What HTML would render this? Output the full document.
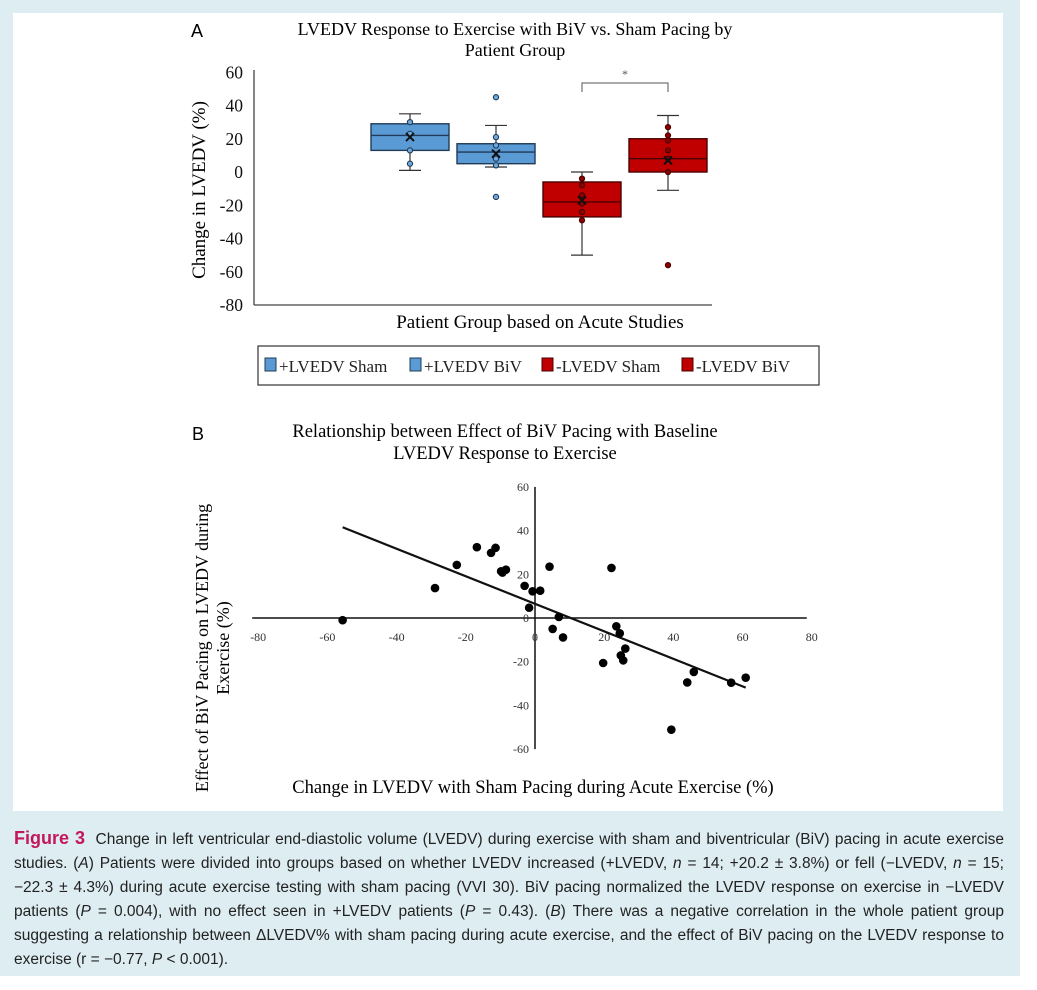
<!DOCTYPE html>
<html><head><meta charset="utf-8"><style>
html,body{margin:0;padding:0;background:#fff;width:1037px;height:990px;overflow:hidden}
#bg{position:absolute;left:0;top:0;width:1020px;height:976px;background:#deedf2}
#panel{position:absolute;left:13px;top:13px;width:990px;height:798px;background:#fff}
svg{position:absolute;left:0;top:0}
.serif{font-family:"Liberation Serif",serif}
#caption{position:absolute;left:14px;top:826px;width:990px;font-family:"Liberation Sans",sans-serif;font-size:15.5px;line-height:24px;color:#222}
#caption div{text-align:justify;text-align-last:justify;white-space:nowrap}
#caption div.last{text-align-last:left}
.fig{color:#c2185b;font-weight:bold;font-size:18px}
</style></head><body>
<div id="bg"></div>
<div id="panel"></div>
<svg id="svg" width="1037" height="990">
  <text x="197" y="37" font-family="Liberation Sans,sans-serif" font-size="18" text-anchor="middle">A</text>
  <text class="serif" x="515" y="35" font-size="18" text-anchor="middle">LVEDV Response to Exercise with BiV vs. Sham Pacing by</text>
  <text class="serif" x="515" y="56" font-size="18" text-anchor="middle">Patient Group</text>
  <text class="serif" x="0" y="0" font-size="19" text-anchor="middle" transform="translate(205,190) rotate(-90)">Change in LVEDV (%)</text>
  <text class="serif" x="540" y="328" font-size="19" text-anchor="middle">Patient Group based on Acute Studies</text>
  <g id="boxchart"></g>
  <g id="legend">
    <rect x="258" y="346" width="561" height="39" fill="#fff" stroke="#333" stroke-width="1.2"/>
  </g>
  <text x="198" y="440" font-family="Liberation Sans,sans-serif" font-size="18" text-anchor="middle">B</text>
  <text class="serif" x="505" y="437" font-size="18.5" text-anchor="middle">Relationship between Effect of BiV Pacing with Baseline</text>
  <text class="serif" x="505" y="459" font-size="18.5" text-anchor="middle">LVEDV Response to Exercise</text>
  <text class="serif" font-size="18" text-anchor="middle" transform="translate(208,648) rotate(-90)">Effect of BiV Pacing on LVEDV during</text>
  <text class="serif" font-size="18" text-anchor="middle" transform="translate(229,648) rotate(-90)">Exercise (%)</text>
  <text class="serif" x="533" y="793" font-size="18.5" text-anchor="middle">Change in LVEDV with Sham Pacing during Acute Exercise (%)</text>
  <g id="scatter"></g>
</svg>
<div id="caption">
<div><span class="fig">Figure 3</span>&nbsp; Change in left ventricular end-diastolic volume (LVEDV) during exercise with sham and biventricular (BiV) pacing in acute exercise</div>
<div>studies. (<i>A</i>) Patients were divided into groups based on whether LVEDV increased (+LVEDV, <i>n</i> = 14; +20.2 ± 3.8%) or fell (−LVEDV, <i>n</i> = 15;</div>
<div>−22.3 ± 4.3%) during acute exercise testing with sham pacing (VVI 30). BiV pacing normalized the LVEDV response on exercise in −LVEDV</div>
<div>patients (<i>P</i> = 0.004), with no effect seen in +LVEDV patients (<i>P</i> = 0.43). (<i>B</i>) There was a negative correlation in the whole patient group</div>
<div>suggesting a relationship between ΔLVEDV% with sham pacing during acute exercise, and the effect of BiV pacing on the LVEDV response to</div>
<div class="last">exercise (r = −0.77, <i>P</i> &lt; 0.001).</div>
</div>
<script>
// ---- Chart A data ----
const groups = ["+LVEDV Sham", "+LVEDV BiV", "-LVEDV Sham", "-LVEDV BiV"];
const q1 = [13, 5, -27, 0];
const q3 = [29, 17, -6, 20];
const medians = [22, 12, -18, 8];
const whiskLow = [1, 3, -50, -11];
const whiskHigh = [35, 28, 0, 34];
const means = [21, 11, -17, 7];
const pts0 = [30, 23, 13, 5];
const pts1 = [45, 21, 16, 8, 4, -15];
const pts2 = [-4, -8, -14, -19, -24, -29];
const pts3 = [27, 22, 19, 13, 8, 0, -56];
const yTicksA = [60, 40, 20, 0, -20, -40, -60, -80];
// ---- Chart B data ----
const shamX = [-55.6,-28.9,-22.6,-16.8,-12.7,-11.4,-9.8,-9.4,-8.4,-3.0,-1.7,-0.7,1.5,4.2,5.1,6.9,8.1,19.7,22.1,23.5,24.5,26.1,24.8,25.5,39.4,44.0,45.9,56.7,60.9];
const bivY = [-1,13.7,24.3,32.4,29.8,32.1,21.4,20.8,22.1,14.7,4.7,12.2,12.5,23.5,-5,0.5,-8.9,-20.6,22.9,-3.8,-7,-14,-17.1,-19.4,-51.1,-29.5,-24.7,-29.6,-27.3];
const trendSlope = [-0.63];
const trendIntercept = [6.5];
const xTicksB = [-80,-60,-40,-20,0,20,40,60,80];
const yTicksB = [60,40,20,-20,-40,-60];

const NS = "http://www.w3.org/2000/svg";
function mk(parent, tag, attrs){const e=document.createElementNS(NS,tag);for(const k in attrs)e.setAttribute(k,attrs[k]);parent.appendChild(e);return e;}

// Chart A
const A = document.getElementById('boxchart');
const yA = v => 172 - v*(133/80);
const xA = i => 410 + i*86;
const bw = 78;
mk(A,'line',{x1:254,y1:70,x2:254,y2:305,stroke:'#444','stroke-width':1.3});
mk(A,'line',{x1:254,y1:305,x2:712,y2:305,stroke:'#444','stroke-width':1.3});
yTicksA.forEach(v=>{
  const t=mk(A,'text',{x:243,y:yA(v)+6,'font-size':17.5,'text-anchor':'end','font-family':'Liberation Serif,serif',fill:'#111'});
  t.textContent=v;
  
  
});
const fills=['#5b9bd5','#5b9bd5','#c00000','#c00000'];
const strokes=['#1f3b57','#1f3b57','#4a0000','#4a0000'];
const ptFill=['#6fa8dc','#6fa8dc','#8b0000','#8b0000'];
const allPts=[pts0,pts1,pts2,pts3];
groups.forEach((g,i)=>{
  const cx=xA(i);
  const grp=mk(A,'g',{});
  
  
  mk(grp,'line',{x1:cx,y1:yA(whiskHigh[i]),x2:cx,y2:yA(whiskLow[i]),stroke:'#333','stroke-width':1.2});
  mk(grp,'line',{x1:cx-11,y1:yA(whiskHigh[i]),x2:cx+11,y2:yA(whiskHigh[i]),stroke:'#333','stroke-width':1.2});
  mk(grp,'line',{x1:cx-11,y1:yA(whiskLow[i]),x2:cx+11,y2:yA(whiskLow[i]),stroke:'#333','stroke-width':1.2});
  mk(grp,'rect',{x:cx-bw/2,y:yA(q3[i]),width:bw,height:yA(q1[i])-yA(q3[i]),fill:fills[i],stroke:strokes[i],'stroke-width':1.4});
  mk(grp,'line',{x1:cx-bw/2,y1:yA(medians[i]),x2:cx+bw/2,y2:yA(medians[i]),stroke:strokes[i],'stroke-width':1.4});
  allPts[i].forEach(v=>{
    const c=mk(grp,'circle',{cx:cx,cy:yA(v),r:2.6,fill:ptFill[i],stroke:strokes[i],'stroke-width':1.1});
    
  });
  const m=yA(means[i]);
  const mx=mk(grp,'path',{d:`M${cx-4} ${m-4}L${cx+4} ${m+4}M${cx+4} ${m-4}L${cx-4} ${m+4}`,stroke:'#111','stroke-width':2});
  
});
mk(A,'path',{d:`M${xA(2)} 92V83H${xA(3)}V92`,fill:'none',stroke:'#555','stroke-width':1});
const st=mk(A,'text',{x:(xA(2)+xA(3))/2,y:78,'font-size':12,'text-anchor':'middle',fill:'#555'});st.textContent='*';


// Legend
const L=document.getElementById('legend');
const lx=[272,417,549,689];
groups.forEach((g,i)=>{
  const r=mk(L,'rect',{x:lx[i]-7,y:358,width:11,height:13,fill:fills[i],stroke:strokes[i],'stroke-width':1});
  
  const t=mk(L,'text',{x:lx[i]+7,y:372,'font-size':17,'font-family':'Liberation Serif,serif',fill:'#222'});
  t.textContent=g;
  
  
});

// Chart B
const B=document.getElementById('scatter');
const xB=v=>535+v*(69.2/20);
const yB=v=>618-v*(43.7/20);
mk(B,'line',{x1:xB(-80)-6,y1:yB(0),x2:xB(80)-5,y2:yB(0),stroke:'#111','stroke-width':1.5});
mk(B,'line',{x1:xB(0),y1:yB(60),x2:xB(0),y2:yB(-60),stroke:'#111','stroke-width':1.5});
xTicksB.forEach(v=>{
  const t=mk(B,'text',{x:xB(v),y:yB(0)+23,'font-size':12,'text-anchor':'middle','font-family':'Liberation Serif,serif',fill:'#333'});
  t.textContent=v;
  
});
yTicksB.concat([0]).forEach(v=>{
  const t=mk(B,'text',{x:xB(0)-6,y:yB(v)+4,'font-size':12,'text-anchor':'end','font-family':'Liberation Serif,serif',fill:'#333'});
  t.textContent=v;
  
});
const xmin=Math.min(...shamX), xmax=Math.max(...shamX);
const tl=mk(B,'line',{x1:xB(xmin),y1:yB(trendSlope[0]*xmin+trendIntercept[0]),x2:xB(xmax),y2:yB(trendSlope[0]*xmax+trendIntercept[0]),stroke:'#111','stroke-width':2.2});

shamX.forEach((x,i)=>{
  const c=mk(B,'circle',{cx:xB(x),cy:yB(bivY[i]),r:4.3,fill:'#000'});
  
});
</script>
</body></html>
